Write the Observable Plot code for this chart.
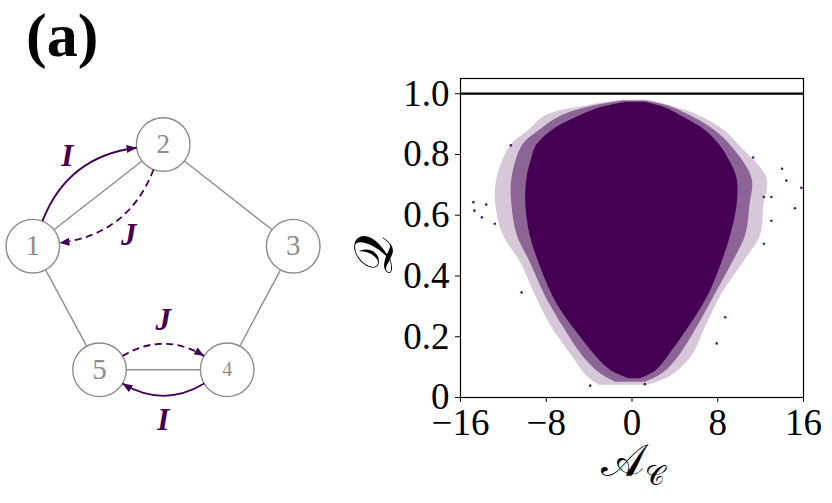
<!DOCTYPE html>
<html><head><meta charset="utf-8">
<script src="https://cdn.jsdelivr.net/npm/d3@7"></script>
<script src="https://cdn.jsdelivr.net/npm/@observablehq/plot@0.6"></script>
<style>
body{margin:0;background:#fff;}
#wrap{position:relative;width:832px;height:503px;overflow:hidden;background:#fff;}
#wrap svg{position:absolute;left:0;top:0;background:transparent;}
#tag{position:absolute;left:26px;top:3px;font-family:"Liberation Serif";font-weight:bold;font-size:62px;line-height:1.05;}
</style></head><body>
<div id="wrap"><div id="tag">(a)</div></div>
<script>
// ---------- diagram data (graph layout) ----------
const nodeIds = [1, 2, 3, 4, 5];
const nodeX = [32.3, 162.7, 292.7, 226.7, 99];
const nodeY = [245.7, 144, 245.7, 369.3, 369.3];
const nodeLabelSize = [29, 27, 29, 20, 29];
const edgeFrom = [1, 2, 3, 4, 5];
const edgeTo = [2, 3, 4, 5, 1];
const arrowFrom = [1, 2, 5, 4];
const arrowTo = [2, 1, 4, 5];
const arrowLabel = ["I", "J", "J", "I"];
const arrowDashed = [false, true, true, false];

// ---------- scatter data (Q vs A_C) ----------
const coreQ     = [0.062, 0.09, 0.137, 0.18, 0.226, 0.28, 0.335, 0.39, 0.445, 0.533, 0.632, 0.72, 0.78, 0.83, 0.88, 0.928, 0.955, 0.972];
const coreLeft  = [-0.3, -2.0, -3.4, -4.4, -5.4, -6.5, -7.4, -8.1, -8.7, -9.5, -9.9, -9.8, -9.4, -8.9, -7.4, -4.8, -2.8, -0.5];
const coreRight = [0.8, 2.3, 3.4, 4.3, 5.2, 6.2, 7.1, 7.8, 8.4, 9.2, 9.8, 9.8, 9.1, 8.2, 6.8, 4.5, 3.0, 1.2];
const fuzzQ     = [0.05, 0.08, 0.137, 0.226, 0.335, 0.445, 0.533, 0.632, 0.72, 0.83, 0.88, 0.928, 0.96, 0.976];
const fuzzLeft  = [-1.5, -3.0, -4.6, -6.3, -8.1, -9.5, -10.7, -11.2, -11.2, -10.2, -8.6, -6.5, -3.5, -0.8];
const fuzzRight = [1.2, 2.9, 4.4, 6.0, 7.7, 9.4, 10.6, 11.0, 11.2, 9.2, 7.7, 5.4, 3.3, 1.3];
const haloQ     = [0.04, 0.07, 0.137, 0.226, 0.335, 0.445, 0.533, 0.632, 0.72, 0.83, 0.88, 0.928, 0.96, 0.978];
const haloLeft  = [-3.0, -4.2, -5.6, -7.4, -9.0, -10.4, -12.0, -12.7, -12.6, -11.3, -9.6, -8.0, -4.2, -1.0];
const haloRight = [1.5, 3.6, 5.6, 6.8, 8.3, 10.4, 12.0, 12.3, 12.6, 10.0, 8.6, 6.2, 3.6, 1.5];
const outA = [-14.8, -14.7, -14.0, -13.6, -12.8, -10.3, 14.0, 14.4, 15.8, 15.2, 12.3, 11.3, 13.0, -11.3, -3.9, 1.2, 7.9, 8.7, 12.3, 13.0];
const outQ = [0.643, 0.615, 0.593, 0.635, 0.572, 0.346, 0.753, 0.714, 0.69, 0.623, 0.66, 0.79, 0.66, 0.83, 0.039, 0.044, 0.178, 0.264, 0.506, 0.582];
const refLine = [1.0];
const xTicks = [-16, -8, 0, 8, 16];
const xTickLabels = ["\u221216", "\u22128", "0", "8", "16"];
const yTicks = [0, 0.2, 0.4, 0.6, 0.8, 1.0];
const yTickLabels = ["0", "0.2", "0.4", "0.6", "0.8", "1.0"];
const yLabel = "\u{1D4AC}";
const xLabelMain = "\u{1D49C}";
const xLabelSub = "\u{1D49E}";

const purple = "#440154";
const gray = "#8c8c8c";
const serif = "Liberation Serif";
const wrap = document.getElementById("wrap");

// ---------- scatter plot ----------
const core = coreQ.map((q, i) => ({q, l: coreLeft[i], r: coreRight[i]}));
const fuzz = fuzzQ.map((q, i) => ({q, l: fuzzLeft[i], r: fuzzRight[i]}));
const halo = haloQ.map((q, i) => ({q, l: haloLeft[i], r: haloRight[i]}));
const outl = outA.map((a, i) => ({a, q: outQ[i]}));
const xLab = new Map(xTicks.map((t, i) => [t, xTickLabels[i]]));
const yLab = new Map(yTicks.map((t, i) => [t, yTickLabels[i]]));

const scatter = Plot.plot({
  width: 832, height: 503,
  marginLeft: 460, marginRight: 29, marginTop: 78, marginBottom: 106,
  style: {fontFamily: serif, fontSize: "37px", background: "transparent", color: "black"},
  x: {domain: [-16, 16], ticks: xTicks, tickFormat: d => xLab.get(d), tickSize: 5, tickPadding: 6, label: null},
  y: {domain: [0, 1.05], ticks: yTicks, tickFormat: d => yLab.get(d), tickSize: 5, tickPadding: 6, label: null},
  marks: [
    Plot.areaX(halo, {y: "q", x1: "l", x2: "r", fill: purple, fillOpacity: 0.22, curve: "catmull-rom"}),
    Plot.areaX(fuzz, {y: "q", x1: "l", x2: "r", fill: purple, fillOpacity: 0.5, curve: "catmull-rom"}),
    Plot.areaX(core, {y: "q", x1: "l", x2: "r", fill: purple, curve: "catmull-rom"}),
    Plot.dot(outl, {x: "a", y: "q", r: 1.3, fill: purple, fillOpacity: 0.9}),
    Plot.ruleY(refLine, {stroke: "black", strokeWidth: 2.2}),
    Plot.frame({stroke: "black", strokeWidth: 1.2}),
    Plot.text([yLabel], {frameAnchor: "left", dx: -86, dy: 36, rotate: -90, fontSize: 54, fontFamily: "DejaVu Sans", fill: "black"}),
    Plot.text([xLabelMain], {frameAnchor: "bottom", dx: -9, dy: 78, fontSize: 46, fontFamily: "DejaVu Sans", fill: "black"}),
    Plot.text([xLabelSub], {frameAnchor: "bottom", dx: 23, dy: 87, fontSize: 27, fontFamily: "DejaVu Sans", fill: "black"})
  ]
});
wrap.appendChild(scatter);

// ---------- diagram ----------
const R = 26.8;
const nodes = nodeIds.map((id, i) => ({id, x: nodeX[i], y: nodeY[i], size: nodeLabelSize[i]}));
const byId = new Map(nodes.map(n => [n.id, n]));
const edges = edgeFrom.map((f, i) => ({a: byId.get(f), b: byId.get(edgeTo[i])}));
const rad = 0.3;
const theta = Math.atan(2 * rad);
const arrows = arrowFrom.map((f, i) => {
  const a = byId.get(f), b = byId.get(arrowTo[i]);
  const dx = b.x - a.x, dy = b.y - a.y, L = Math.hypot(dx, dy);
  const ux = dx / L, uy = dy / L, px = uy, py = -ux;
  const c = Math.cos(theta), s = Math.sin(theta);
  return {
    x1: a.x + R * (c * ux + s * px), y1: a.y + R * (c * uy + s * py),
    x2: b.x + R * (-c * ux + s * px), y2: b.y + R * (-c * uy + s * py),
    lx: (a.x + b.x) / 2 + 50 * px, ly: (a.y + b.y) / 2 + 50 * py,
    label: arrowLabel[i], dashed: arrowDashed[i]
  };
});

function arcCurve(r) {
  return function (context) {
    let pts = [];
    return {
      areaStart() {}, areaEnd() {},
      lineStart() { pts = []; },
      point(x, y) { pts.push([+x, +y]); },
      lineEnd() {
        const [x0, y0] = pts[0], [x1, y1] = pts[pts.length - 1];
        const cx = (x0 + x1) / 2 + r * (y1 - y0);
        const cy = (y0 + y1) / 2 - r * (x1 - x0);
        context.moveTo(x0, y0);
        context.quadraticCurveTo(cx, cy, x1, y1);
      }
    };
  };
}
function triHead(color) {
  const ns = "http://www.w3.org/2000/svg";
  const m = document.createElementNS(ns, "marker");
  m.setAttribute("viewBox", "0 -5 10 10");
  m.setAttribute("refX", "10");
  m.setAttribute("refY", "0");
  m.setAttribute("markerWidth", "10");
  m.setAttribute("markerHeight", "10");
  m.setAttribute("markerUnits", "userSpaceOnUse");
  m.setAttribute("orient", "auto");
  const p = document.createElementNS(ns, "path");
  p.setAttribute("d", "M0,-4L10,0L0,4Z");
  p.setAttribute("fill", color);
  p.setAttribute("stroke", "none");
  p.setAttribute("stroke-dasharray", "none");
  m.appendChild(p);
  return m;
}

const diagram = Plot.plot({
  width: 330, height: 503, margin: 0,
  style: {background: "transparent", fontFamily: serif},
  x: {type: "identity", axis: null},
  y: {type: "identity", axis: null},
  marks: [
    Plot.link(edges, {x1: d => d.a.x, y1: d => d.a.y, x2: d => d.b.x, y2: d => d.b.y, stroke: gray, strokeWidth: 1.4}),
    Plot.dot(nodes, {x: "x", y: "y", r: R, fill: "white", stroke: gray, strokeWidth: 1.4}),
    Plot.text(nodes, {x: "x", y: "y", text: d => String(d.id), fontSize: d => d.size, fontFamily: serif, fill: gray}),
    Plot.link(arrows.filter(d => !d.dashed), {x1: "x1", y1: "y1", x2: "x2", y2: "y2", stroke: purple, strokeWidth: 1.8, curve: arcCurve(rad), markerEnd: triHead}),
    Plot.link(arrows.filter(d => d.dashed), {x1: "x1", y1: "y1", x2: "x2", y2: "y2", stroke: purple, strokeWidth: 1.8, strokeDasharray: "7,4.5", curve: arcCurve(rad), markerEnd: triHead}),
    Plot.text(arrows, {x: "lx", y: "ly", text: "label", fontSize: 31, fontWeight: "bold", fontStyle: "italic", fontFamily: serif, fill: purple})
  ]
});
wrap.appendChild(diagram);
</script>
</body></html>
